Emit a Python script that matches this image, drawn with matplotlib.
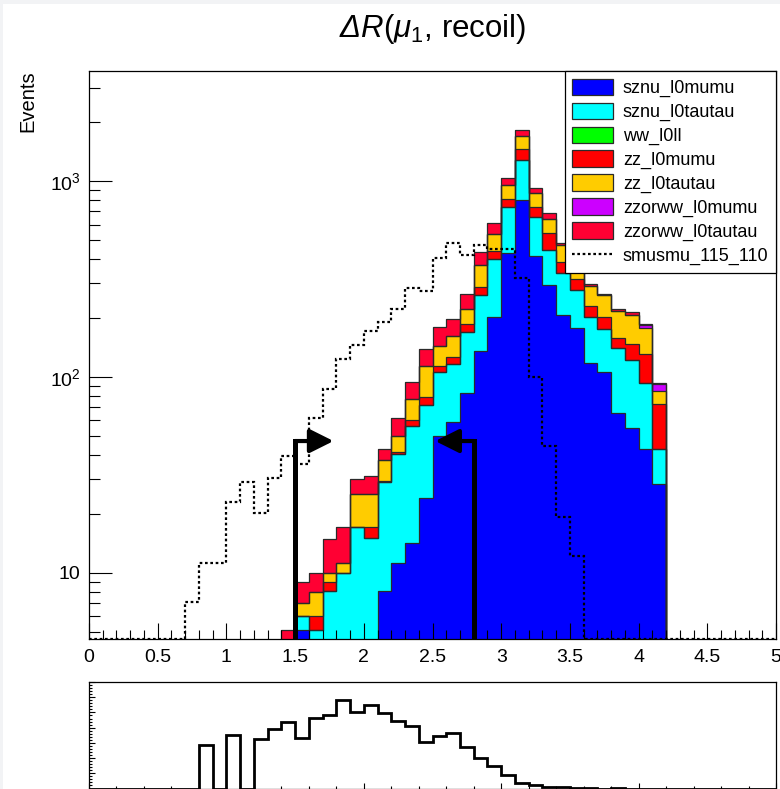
import numpy as np
import matplotlib
matplotlib.use("Agg")
import matplotlib.pyplot as plt
from matplotlib.patches import Patch, Rectangle
from matplotlib.lines import Line2D
from matplotlib.ticker import MultipleLocator, FixedLocator, NullFormatter, FuncFormatter

plt.rcParams['font.family'] = ['Liberation Sans', 'DejaVu Sans']
plt.rcParams['mathtext.fontset'] = 'custom'
plt.rcParams['mathtext.rm'] = 'Liberation Sans'
plt.rcParams['mathtext.it'] = 'Liberation Sans:italic'
plt.rcParams['mathtext.bf'] = 'Liberation Sans:bold'
plt.rcParams['mathtext.cal'] = 'Liberation Sans:italic'

# ---------------- data ----------------
bin_edges = np.linspace(0.0, 5.0, 51)

sznu_l0mumu = [0]*15 + [5.1, 2.0, 3.0, 3.5, 4.0, 4.5, 8.1, 11.2, 14.1, 24.0,
                        50.1, 58.5, 83.1, 136, 202, 428, 800, 414, 295, 207,
                        177, 118, 106, 65, 55, 42.8, 28.4] + [0]*8
sznu_l0tautau = [0]*15 + [0.9, 3.1, 5.1, 6.5, 13.2, 10.5, 20.8, 29.1, 42.0, 47.8,
                          55.9, 57.5, 86.9, 126, 196, 305, 481, 241, 152, 132,
                          101, 85, 69, 75, 67, 50.2, 14.4] + [0]*8
ww_l0ll = [0]*50
zz_l0mumu = [0]*15 + [0, 0.9, 0.9, 0, 0, 2.0, 0.6, 1.2, 4.0, 7.3,
                      7, 10, 17, 27, 42, 79, 174, 81, 95, 46,
                      37, 27, 28, 17, 26, 38, 30.2] + [0]*8
zz_l0tautau = [0]*15 + [1.0, 2.0, 1.0, 1.2, 8.0, 8.2, 7.9, 8.4, 16.6, 34.6,
                        30, 36, 34, 84, 98, 144, 239, 131, 101, 85,
                        39, 62, 59, 60, 59, 46, 11.5] + [0]*8
zzorww_l0mumu = [0]*15 + [0, 0, 0, 0, 0, 0, 0, 0, 0, 0,
                          0, 0, 0, 0, 0, 0, 0, 0, 0, 0.5,
                          0.5, 0.5, 0.5, 0.5, 0.5, 6, 7.3] + [0]*8
zzorww_l0tautau = [0]*14 + [5.1, 2.0, 2.0, 4.9, 5.9, 5.0, 6.0, 5.4, 12.0, 17.4, 24.7,
                            36, 36, 43, 63, 75, 78, 130, 51, 42, 15,
                            9, 6, 2, 5, 6, 3, 0.7] + [0]*8

smusmu_115_110 = [0]*7 + [7.06, 11.2, 11.2, 23.0, 29.2, 20.1, 30.4, 39.5, 35.9, 61.4,
                          86.6, 124, 145, 172, 190, 222, 285, 273, 403, 480,
                          419, 470, 451, 451, 318, 100, 44.4, 19.3, 12.2] + [0]*14

lower_values = [0]*8 + [2.89, 0, 3.54, 0, 3.26, 3.91, 4.39, 3.33, 4.61, 4.85,
                        5.83, 5.0, 5.48, 4.93, 4.43, 4.09, 3.04, 3.46, 3.65, 2.76,
                        2.0, 1.46, 0.91, 0.37, 0.22, 0.13, 0.07, 0.03, 0.02, 0,
                        0.06] + [0]*11

bkg_names = ["sznu_l0mumu", "sznu_l0tautau", "ww_l0ll", "zz_l0mumu",
             "zz_l0tautau", "zzorww_l0mumu", "zzorww_l0tautau"]
bkg_values = [sznu_l0mumu, sznu_l0tautau, ww_l0ll, zz_l0mumu,
              zz_l0tautau, zzorww_l0mumu, zzorww_l0tautau]
bkg_colors = ["#0000ff", "#00ffff", "#00ff00", "#ff0000",
              "#ffcc00", "#cc00ff", "#ff0033"]
signal_name = "smusmu_115_110"

cut_values = [1.5, 2.8]
cut_directions = [1, -1]
cut_arrow_height = 47.0
cut_arrow_length = 0.28

title = r"$\mathcal{\Delta}R(\mu_{1}$, recoil)"
ylabel = "Events"

# ---------------- figure ----------------
W, H = 780, 789
fig = plt.figure(figsize=(W / 100, H / 100), dpi=100)
fig.patch.set_facecolor("white")

def fx(px):
    return px / W

def fy(py):
    return 1 - py / H

ax = fig.add_axes([fx(89), fy(639), fx(776) - fx(89), fy(71) - fy(639)])
ax_low = fig.add_axes([fx(89), fy(788.5), fx(776) - fx(89), fy(682) - fy(788.5)])

ymin, ymax = 4.58, 3650
floor = 1e-2

# stacked backgrounds
cum = np.zeros(50)
tops = []
bottoms = []
for vals in bkg_values:
    v = np.array(vals, dtype=float)
    bottoms.append(cum.copy())
    cum = cum + v
    tops.append(cum.copy())

for b, t, c in zip(bottoms, tops, bkg_colors):
    ax.stairs(np.maximum(t, floor), bin_edges, baseline=np.maximum(b, floor),
              fill=True, color=c, lw=0, zorder=1)
for t in tops:
    ax.stairs(np.maximum(t, floor), bin_edges, baseline=None,
              color="#2a2a2a", lw=0.9, zorder=1.2)

# signal (zero bins drawn along the frame bottom, as ROOT does)
sig = np.maximum(np.array(smusmu_115_110, dtype=float), ymin)
ax.stairs(sig, bin_edges, baseline=None, color="black", lw=1.6,
          linestyle=(0, (1.2, 1.2)), zorder=2)

# cut arrows
for cv, d in zip(cut_values, cut_directions):
    ax.plot([cv, cv], [ymin, cut_arrow_height], color="black", lw=3.6,
            solid_capstyle="projecting", zorder=4)
    ax.annotate("", xy=(cv + d * cut_arrow_length, cut_arrow_height),
                xytext=(cv, cut_arrow_height),
                arrowprops=dict(arrowstyle="-|>,head_length=0.72,head_width=0.36",
                                lw=3.0, color="black", shrinkA=0, shrinkB=0,
                                mutation_scale=20),
                zorder=4)

ax.set_yscale("log")
ax.set_xlim(0, 5)
ax.set_ylim(ymin, ymax)
ax.set_axisbelow(False)

ax.xaxis.set_major_locator(MultipleLocator(0.5))
ax.xaxis.set_minor_locator(MultipleLocator(0.1))
ax.xaxis.set_major_formatter(FuncFormatter(lambda v, p: "%g" % v))
ax.yaxis.set_major_locator(FixedLocator([10, 100, 1000]))
minor_y = [m * 10 ** e for e in range(0, 4) for m in range(2, 10)]
ax.yaxis.set_minor_locator(FixedLocator(minor_y))
ax.yaxis.set_minor_formatter(NullFormatter())

def yfmt(v, p):
    e = int(round(np.log10(v)))
    return "10" if e == 1 else r"$10^{%d}$" % e

ax.yaxis.set_major_formatter(FuncFormatter(yfmt))
ax.tick_params(axis="x", which="major", direction="in", length=11.3, width=0.8,
               labelsize=14, pad=7, top=False)
ax.tick_params(axis="x", which="minor", direction="in", length=6.5, width=0.8, top=False)
ax.tick_params(axis="y", which="major", direction="in", length=16.3, width=0.8,
               labelsize=14, pad=6, right=False)
ax.tick_params(axis="y", which="minor", direction="in", length=7.9, width=0.8, right=False)
for s in ax.spines.values():
    s.set_linewidth(0.9)
    s.set_zorder(5)

# legend
handles = [Patch(facecolor=c, edgecolor="#2a2a2a", lw=0.9) for c in bkg_colors]
handles.append(Line2D([], [], color="black", lw=1.6, linestyle=(0, (1.2, 1.2))))
labels = bkg_names + [signal_name]
leg = ax.legend(handles, labels, loc="upper right", bbox_to_anchor=(1, 1),
                borderaxespad=0, frameon=True, fancybox=False, edgecolor="black",
                framealpha=1, fontsize=13, handlelength=2.25, handleheight=1.05,
                handletextpad=0.55, labelspacing=0.29, borderpad=0.42)
leg.get_frame().set_linewidth(0.9)
leg.set_zorder(6)

fig.text(fx(432.5), fy(29), title, ha="center", va="center", fontsize=22.5)
fig.text(fx(28), fy(70), ylabel, ha="center", va="top", rotation=90, fontsize=14.5)

# lower panel
ax_low.stairs(np.array(lower_values, dtype=float), bin_edges, baseline=0,
              color="black", lw=2.0, zorder=2)
ax_low.set_xlim(0, 5)
ax_low.set_ylim(0, 7)
ax_low.xaxis.set_major_locator(MultipleLocator(1))
ax_low.xaxis.set_minor_locator(MultipleLocator(0.2))
ax_low.yaxis.set_major_locator(MultipleLocator(1))
ax_low.yaxis.set_minor_locator(MultipleLocator(0.2))
ax_low.tick_params(which="both", direction="in", labelbottom=False, labelleft=False,
                   top=False, right=False, width=0.8)
ax_low.tick_params(which="major", length=4.5)
ax_low.tick_params(which="minor", length=2.5)
for s in ax_low.spines.values():
    s.set_linewidth(0.9)

# light screenshot border (top and left)
fig.add_artist(Rectangle((0, fy(4)), 1, 4 / H, transform=fig.transFigure,
                         facecolor="#f2f3f5", edgecolor="none"))
fig.add_artist(Rectangle((0, 0), 3.5 / W, 1, transform=fig.transFigure,
                         facecolor="#f2f3f5", edgecolor="none"))

fig.savefig("out.png", dpi=100, facecolor="white")
